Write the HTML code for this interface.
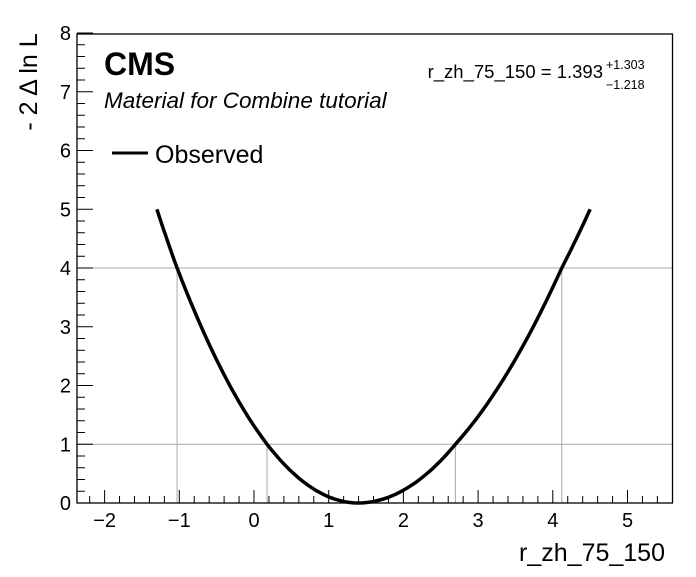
<!DOCTYPE html>
<html><head><meta charset="utf-8"><style>
body{margin:0;background:#fff}
svg text{font-family:"Liberation Sans",sans-serif;fill:#000}
</style></head><body>
<svg id="s" width="696" height="572" xmlns="http://www.w3.org/2000/svg">
<rect x="0" y="0" width="696" height="572" fill="#fff"/>
<g id="grid" stroke="#aaa" stroke-width="1"></g>
<g id="ticks" stroke="#000" stroke-width="1"></g>
<rect x="77" y="34" width="595.5" height="469" fill="none" stroke="#000" stroke-width="1.3"/>
<path id="curve" fill="none" stroke="#000" stroke-width="3.5" stroke-linejoin="round"/>
<g id="labels" font-size="20"></g>
<text x="104" y="75" font-size="32" font-weight="bold">CMS</text>
<text x="104" y="108" font-size="22.5" font-style="italic">Material for Combine tutorial</text>
<line x1="112" y1="153" x2="148" y2="153" stroke="#000" stroke-width="3"/>
<text x="155" y="163" font-size="25">Observed</text>
<text x="603" y="78" font-size="18.5" text-anchor="end">r_zh_75_150 = 1.393</text>
<text x="606" y="69" font-size="12.5">+1.303</text>
<text x="606" y="89" font-size="12.5">−1.218</text>
<text x="665" y="561" font-size="25" text-anchor="end">r_zh_75_150</text>
<text transform="translate(37,82) rotate(-90)" font-size="25" text-anchor="middle">- 2 Δ ln L</text>
</svg>
<script>
var X=function(v){return 254+v*74.7},Y=function(v){return 503-v*58.75};
var ns="http://www.w3.org/2000/svg";
function el(p,t,a,txt){var e=document.createElementNS(ns,t);for(var k in a)e.setAttribute(k,a[k]);if(txt!=null)e.textContent=txt;document.getElementById(p).appendChild(e);}
el("grid","line",{x1:77,x2:672,y1:Y(1),y2:Y(1)});
el("grid","line",{x1:77,x2:672,y1:Y(4),y2:Y(4)});
[[-1.03,4],[0.175,1],[2.696,1],[4.12,4]].forEach(function(p){el("grid","line",{x1:X(p[0]),x2:X(p[0]),y1:503,y2:Y(p[1])});});
for(var i=-12;i<=28;i++){var v=i/5,x=X(v);if(x<77||x>672)continue;var maj=i%5==0;el("ticks","line",{x1:x,x2:x,y1:503,y2:503-(maj?13:7)});
if(maj)el("labels","text",{x:x,y:527,"text-anchor":"middle"},(v<0?"\u2212":"")+Math.abs(v));}
for(var i=0;i<=40;i++){var v=i/5,y=Y(v);var maj=i%5==0;el("ticks","line",{x1:77,x2:77+(maj?16:8),y1:y,y2:y});
if(maj)el("labels","text",{x:71,y:y+7,"text-anchor":"end"},""+v);}
var L=[[1.393,0],[0.175,1],[-1.03,2],[-1.3,2.236]],R=[[1.393,0],[2.696,1],[4.12,2],[4.5,2.236]];
function seg(a,n){var pts=[];for(var k=0;k<a.length-1;k++){for(var j=0;j<n;j++){var t=j/n;var s=a[k][1]+(a[k+1][1]-a[k][1])*t;var x=a[k][0]+(a[k+1][0]-a[k][0])*t;pts.push([x,s*s]);}}pts.push([a[a.length-1][0],a[a.length-1][1]*a[a.length-1][1]]);return pts;}
var lp=seg(L,20).reverse(),rp=seg(R,20).slice(1);var all=lp.concat(rp);
document.getElementById("curve").setAttribute("d",all.map(function(p,i){return(i?"L":"M")+X(p[0]).toFixed(1)+" "+Y(p[1]).toFixed(1)}).join(""));
</script>
</body></html>
